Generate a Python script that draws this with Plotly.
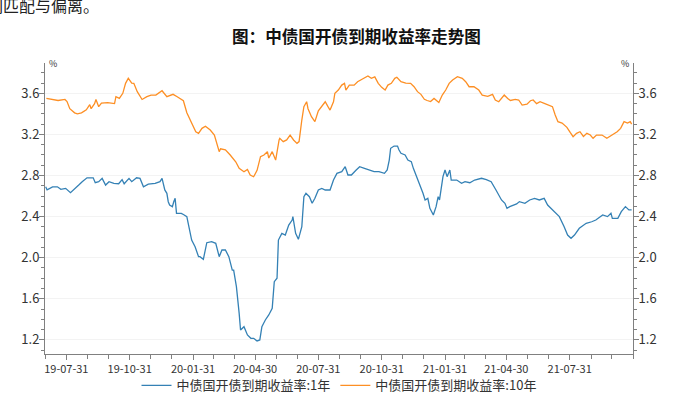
import plotly.graph_objects as go

# ---------------- data ----------------
dates_1y = [
    "2019-07-01", "2019-07-03", "2019-07-11", "2019-07-18", "2019-07-23", "2019-07-30",
    "2019-08-06", "2019-08-11", "2019-08-18", "2019-08-23", "2019-08-30",
    "2019-09-08", "2019-09-11", "2019-09-16", "2019-09-21", "2019-09-26",
    "2019-10-01", "2019-10-08", "2019-10-15", "2019-10-20", "2019-10-23", "2019-10-30",
    "2019-11-03", "2019-11-10", "2019-11-15", "2019-11-20", "2019-11-27",
    "2019-12-07", "2019-12-14", "2019-12-17", "2019-12-21", "2019-12-24", "2019-12-26", "2019-12-28",
    "2020-01-01", "2020-01-03", "2020-01-05", "2020-01-07", "2020-01-14", "2020-01-17",
    "2020-01-22", "2020-01-24", "2020-01-26", "2020-01-29",
    "2020-02-03", "2020-02-08", "2020-02-10", "2020-02-15", "2020-02-20", "2020-02-27",
    "2020-03-04", "2020-03-09", "2020-03-13", "2020-03-18", "2020-03-23", "2020-03-28", "2020-03-30",
    "2020-04-03", "2020-04-07", "2020-04-09", "2020-04-14", "2020-04-19", "2020-04-24", "2020-04-28",
    "2020-05-03", "2020-05-07", "2020-05-10", "2020-05-15", "2020-05-20", "2020-05-25", "2020-05-28",
    "2020-06-01", "2020-06-03", "2020-06-08", "2020-06-13", "2020-06-18", "2020-06-23", "2020-06-24", "2020-06-28",
    "2020-07-02", "2020-07-07", "2020-07-10", "2020-07-13", "2020-07-18", "2020-07-22", "2020-07-26", "2020-07-31",
    "2020-08-05", "2020-08-10", "2020-08-17", "2020-08-22", "2020-08-27",
    "2020-09-03", "2020-09-08", "2020-09-12", "2020-09-17", "2020-09-24", "2020-09-29",
    "2020-10-06", "2020-10-13", "2020-10-20", "2020-10-27",
    "2020-11-04", "2020-11-08", "2020-11-11", "2020-11-13", "2020-11-18", "2020-11-23", "2020-11-25", "2020-11-28",
    "2020-12-04", "2020-12-08", "2020-12-13", "2020-12-16", "2020-12-20", "2020-12-25", "2020-12-30",
    "2021-01-02", "2021-01-06", "2021-01-09", "2021-01-14", "2021-01-18", "2021-01-21", "2021-01-23", "2021-01-28", "2021-01-31",
    "2021-02-03", "2021-02-07", "2021-02-09", "2021-02-17", "2021-02-24",
    "2021-03-01", "2021-03-08", "2021-03-15", "2021-03-25",
    "2021-04-01", "2021-04-08", "2021-04-15", "2021-04-23", "2021-04-28",
    "2021-05-01", "2021-05-05", "2021-05-15", "2021-05-19", "2021-05-27",
    "2021-06-03", "2021-06-10", "2021-06-17", "2021-06-24", "2021-06-29",
    "2021-07-09", "2021-07-16", "2021-07-23", "2021-07-28",
    "2021-08-02", "2021-08-07", "2021-08-14", "2021-08-24",
    "2021-09-01", "2021-09-07", "2021-09-17", "2021-09-24", "2021-09-29",
    "2021-10-01", "2021-10-09", "2021-10-14", "2021-10-20", "2021-10-25", "2021-10-29",
]
yield_1y = [
    2.69, 2.66, 2.69, 2.69, 2.665, 2.675,
    2.633, 2.66, 2.707, 2.74, 2.778,
    2.778, 2.73, 2.74, 2.772, 2.707,
    2.74, 2.723, 2.72, 2.76, 2.72, 2.772,
    2.74, 2.778, 2.772, 2.691, 2.716,
    2.723, 2.74, 2.773, 2.66, 2.627, 2.545, 2.513,
    2.497, 2.545, 2.578, 2.432, 2.432, 2.42,
    2.40, 2.335, 2.27, 2.172,
    2.107, 2.01, 2.01, 1.985, 2.146, 2.156,
    2.14, 2.01, 2.075, 2.075, 2.01, 1.88, 1.88,
    1.718, 1.459, 1.297, 1.329, 1.248, 1.216, 1.216,
    1.19, 1.20, 1.329, 1.394, 1.443, 1.508, 1.767,
    1.80, 2.172, 2.237, 2.221, 2.318, 2.367, 2.40, 2.237,
    2.179, 2.302, 2.594, 2.627, 2.594, 2.53, 2.578, 2.659,
    2.675, 2.659, 2.659, 2.756, 2.821,
    2.837, 2.886, 2.805, 2.805, 2.854, 2.886,
    2.87, 2.854, 2.837, 2.837,
    2.821, 2.854, 2.95, 3.065, 3.087, 3.087, 3.05, 3.016,
    3.0, 2.95, 2.935, 2.87, 2.805, 2.724, 2.627,
    2.562, 2.578, 2.48, 2.416, 2.497, 2.594, 2.562, 2.789, 2.854,
    2.789, 2.854, 2.756, 2.756, 2.724,
    2.74, 2.73, 2.756, 2.773,
    2.76, 2.74, 2.659, 2.562, 2.53,
    2.48, 2.497, 2.523, 2.546, 2.53,
    2.562, 2.578, 2.562, 2.578, 2.513,
    2.448, 2.40, 2.302, 2.221,
    2.189, 2.221, 2.286, 2.335,
    2.35, 2.367, 2.416, 2.40, 2.432,
    2.383, 2.383, 2.448, 2.497, 2.465, 2.465,
]

dates_10y = [
    "2019-07-02", "2019-07-10", "2019-07-19", "2019-07-29",
    "2019-08-01", "2019-08-05", "2019-08-12", "2019-08-16", "2019-08-22", "2019-08-29",
    "2019-09-03", "2019-09-05", "2019-09-10", "2019-09-12", "2019-09-16", "2019-09-20", "2019-09-29",
    "2019-10-09", "2019-10-11", "2019-10-16", "2019-10-21", "2019-10-25", "2019-10-29",
    "2019-11-03", "2019-11-06", "2019-11-11", "2019-11-18", "2019-11-25",
    "2019-12-01", "2019-12-08", "2019-12-15", "2019-12-17", "2019-12-24",
    "2020-01-02", "2020-01-08", "2020-01-17", "2020-01-22", "2020-01-30",
    "2020-02-04", "2020-02-08", "2020-02-13", "2020-02-18", "2020-02-25",
    "2020-03-02", "2020-03-06", "2020-03-09", "2020-03-11", "2020-03-18", "2020-03-25",
    "2020-04-02", "2020-04-07", "2020-04-14", "2020-04-19", "2020-04-23", "2020-04-28",
    "2020-05-03", "2020-05-08", "2020-05-13", "2020-05-18", "2020-05-20", "2020-05-25", "2020-05-30",
    "2020-06-04", "2020-06-05", "2020-06-10", "2020-06-15", "2020-06-20", "2020-06-25", "2020-06-30",
    "2020-07-03", "2020-07-07", "2020-07-10", "2020-07-14", "2020-07-16", "2020-07-21", "2020-07-26", "2020-07-31",
    "2020-08-05", "2020-08-10", "2020-08-14", "2020-08-17", "2020-08-22", "2020-08-24", "2020-08-29",
    "2020-09-03", "2020-09-07", "2020-09-09", "2020-09-14", "2020-09-21", "2020-09-26",
    "2020-10-04", "2020-10-11", "2020-10-16", "2020-10-21", "2020-10-26", "2020-10-31",
    "2020-11-05", "2020-11-09", "2020-11-14", "2020-11-19", "2020-11-22", "2020-11-28",
    "2020-12-05", "2020-12-12", "2020-12-17", "2020-12-22", "2020-12-27",
    "2021-01-01", "2021-01-05", "2021-01-10", "2021-01-15", "2021-01-22", "2021-01-27",
    "2021-02-01", "2021-02-06", "2021-02-11", "2021-02-18", "2021-02-25",
    "2021-03-02", "2021-03-07", "2021-03-14", "2021-03-21", "2021-03-26",
    "2021-04-03", "2021-04-10", "2021-04-14", "2021-04-19", "2021-04-27",
    "2021-05-02", "2021-05-06", "2021-05-13", "2021-05-18", "2021-05-23", "2021-05-30",
    "2021-06-04", "2021-06-08", "2021-06-13", "2021-06-18", "2021-06-25",
    "2021-07-06", "2021-07-10", "2021-07-14", "2021-07-20", "2021-07-27",
    "2021-08-01", "2021-08-05", "2021-08-10", "2021-08-15", "2021-08-20", "2021-08-25", "2021-08-30",
    "2021-09-03", "2021-09-08", "2021-09-16", "2021-09-23",
    "2021-10-01", "2021-10-08", "2021-10-13", "2021-10-18", "2021-10-23", "2021-10-27", "2021-10-29",
]
yield_10y = [
    3.55, 3.54, 3.53, 3.54,
    3.52, 3.45, 3.41, 3.40, 3.41, 3.44,
    3.49, 3.45, 3.50, 3.54, 3.47, 3.505, 3.51,
    3.50, 3.567, 3.55, 3.60, 3.697, 3.746,
    3.70, 3.697, 3.616, 3.54, 3.567,
    3.583, 3.583, 3.616, 3.625, 3.567,
    3.59, 3.567, 3.528, 3.411, 3.291,
    3.226, 3.21, 3.259, 3.28, 3.243,
    3.194, 3.097, 3.032, 3.06, 3.05, 3.0,
    2.934, 2.87, 2.837, 2.86, 2.805, 2.788,
    2.85, 2.983, 3.0, 3.032, 2.97, 3.032, 2.95,
    3.146, 3.162, 3.13, 3.146, 3.194, 3.146, 3.113,
    3.13, 3.34, 3.47, 3.518, 3.45, 3.372, 3.324, 3.43,
    3.47, 3.518, 3.47, 3.437, 3.518, 3.60, 3.632,
    3.68, 3.697, 3.632, 3.68, 3.68, 3.713,
    3.746, 3.768, 3.746, 3.76, 3.697, 3.658,
    3.632, 3.68, 3.697, 3.746, 3.756, 3.713,
    3.70, 3.697, 3.664, 3.616, 3.59,
    3.542, 3.53, 3.52, 3.55, 3.51, 3.583,
    3.632, 3.697, 3.73, 3.762, 3.746,
    3.713, 3.664, 3.664, 3.632, 3.583,
    3.57, 3.59, 3.535, 3.518, 3.583,
    3.55, 3.53, 3.54, 3.535, 3.486, 3.495,
    3.528, 3.535, 3.50, 3.518, 3.50,
    3.47, 3.389, 3.324, 3.31, 3.269,
    3.217, 3.178, 3.21, 3.226, 3.18, 3.21, 3.194,
    3.162, 3.194, 3.194, 3.162,
    3.194, 3.226, 3.259, 3.324, 3.31, 3.324, 3.30,
]

series_names = ["中债国开债到期收益率:1年", "中债国开债到期收益率:10年"]
major_tick_dates = ["2019-07-31", "2019-10-31", "2020-01-31", "2020-04-30", "2020-07-31",
                    "2020-10-31", "2021-01-31", "2021-04-30", "2021-07-31"]
major_tick_labels = ["19-07-31", "19-10-31", "20-01-31", "20-04-30", "20-07-31",
                     "20-10-31", "21-01-31", "21-04-30", "21-07-31"]
minor_tick_dates = ["2019-06-30", "2019-08-31", "2019-09-30", "2019-11-30", "2019-12-31",
                    "2020-02-29", "2020-03-31", "2020-05-31", "2020-06-30", "2020-08-31",
                    "2020-09-30", "2020-11-30", "2020-12-31", "2021-02-28", "2021-03-31",
                    "2021-05-31", "2021-06-30", "2021-08-31", "2021-09-30", "2021-10-31"]
y_tick_vals = [1.2, 1.6, 2.0, 2.4, 2.8, 3.2, 3.6]
y_tick_text = ["1.2", "1.6", "2.0", "2.4", "2.8", "3.2", "3.6"]
title_text = "图：中债国开债到期收益率走势图"
top_text = "们匹配与偏离。"
unit_text = "%"

# ---------------- figure ----------------
BLUE = "#3481b5"
ORANGE = "#fd8f24"
AXIS = "#808080"
TXT = "#333333"
CJK = "Noto Sans CJK SC"
Y_RANGE = [1.063, 3.895]

fig = go.Figure()
fig.add_trace(go.Scatter(x=dates_1y, y=yield_1y, mode="lines", name=series_names[0],
                         line=dict(color=BLUE, width=1.3), yaxis="y"))
fig.add_trace(go.Scatter(x=dates_10y, y=yield_10y, mode="lines", name=series_names[1],
                         line=dict(color=ORANGE, width=1.3), yaxis="y2"))

yaxis_common = dict(
    range=Y_RANGE, tickmode="array", tickvals=y_tick_vals, ticktext=y_tick_text,
    ticks="outside", ticklen=5, tickcolor=AXIS, tickwidth=1,
    showline=True, linecolor=AXIS, linewidth=1,
    tickfont=dict(family=CJK, size=13, color=TXT),
    ticklabelstandoff=-3,
    zeroline=False, fixedrange=True, automargin=False,
    minor=dict(tick0=1.2, dtick=0.1, ticks="outside", ticklen=3, tickcolor=AXIS, showgrid=False),
)

fig.update_layout(
    width=695, height=397,
    margin=dict(l=45, r=62, t=63, b=43, autoexpand=False),
    paper_bgcolor="white", plot_bgcolor="white",
    showlegend=True,
    legend=dict(orientation="h", x=0.5, xanchor="center", y=-0.108, yanchor="middle",
                font=dict(family=CJK, size=13, color=TXT), itemwidth=30,
                bgcolor="rgba(0,0,0,0)", tracegroupgap=0),
    xaxis=dict(
        type="date", range=["2019-06-30", "2021-10-31"], automargin=False,
        tickmode="array", tickvals=major_tick_dates, ticktext=major_tick_labels,
        ticks="outside", ticklen=5, tickcolor=AXIS, showgrid=False,
        showline=True, linecolor=AXIS, linewidth=1, zeroline=False,
        tickfont=dict(family=CJK, size=11, color=TXT), fixedrange=True,
        minor=dict(tickmode="array", tickvals=minor_tick_dates, ticks="outside",
                   ticklen=4, tickcolor=AXIS, showgrid=False),
    ),
    yaxis=dict(side="left", showgrid=True, gridcolor="#f3f3f3", gridwidth=1, **yaxis_common),
    yaxis2=dict(side="right", overlaying="y", showgrid=False, **yaxis_common),
    annotations=[
        dict(text=f"<b>{title_text}</b>", xref="paper", yref="paper", x=0.5306, y=1.093,
             xanchor="center", yanchor="middle", showarrow=False,
             font=dict(family=CJK, size=16.6, color="#111111")),
        dict(text=top_text, xref="paper", yref="paper", x=-0.102, y=1.2,
             xanchor="left", yanchor="middle", showarrow=False,
             font=dict(family=CJK, size=16, color="#222222")),
        dict(text=unit_text, xref="paper", yref="paper", x=0.003, y=1.0,
             xanchor="left", yanchor="middle", showarrow=False,
             font=dict(family=CJK, size=9, color=TXT)),
        dict(text=unit_text, xref="paper", yref="paper", x=0.997, y=1.0,
             xanchor="right", yanchor="middle", showarrow=False,
             font=dict(family=CJK, size=9, color=TXT)),
    ],
)

fig.write_html("out.html", config={"displayModeBar": False},
               post_script="document.body.style.margin='0px';")
